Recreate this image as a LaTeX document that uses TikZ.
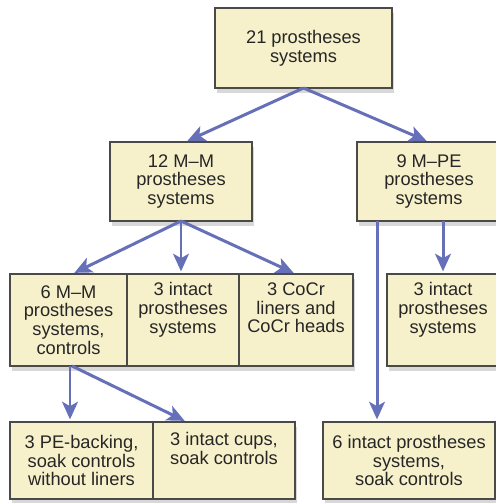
\documentclass[tikz,border=0pt]{standalone}
\usepackage{fontspec}
\setmainfont{Liberation Sans}
\usetikzlibrary{arrows.meta,shadows}

\definecolor{boxfill}{HTML}{F7F1CB}
\definecolor{boxline}{HTML}{4A4A48}
\definecolor{arrowblue}{HTML}{6670B8}

\tikzset{
  sysbox/.style={draw=boxline,line width=0.8pt,fill=boxfill,align=center,
    inner sep=0pt,outer sep=0pt,text=black!85,
    font=\fontsize{10.4}{10.7}\selectfont,
    drop shadow={shadow xshift=1pt,shadow yshift=-3pt,opacity=0.3}},
  arr/.style={->,draw=arrowblue,line width=1.7pt,shorten >=1.5pt}
}

\begin{document}
\begin{tikzpicture}[x=0.02cm,y=-0.02cm,>={Stealth[length=10pt,width=9pt,inset=2.5pt]}]
\useasboundingbox (0,0) rectangle (496,503);
\clip (0,0) rectangle (496,503);
\fill[white] (0,0) rectangle (496,503);

% boxes
\node[sysbox,minimum width=3.54cm,minimum height=1.6cm] (all) at (303.5,48) {21 prostheses\\systems};
\node[sysbox,minimum width=2.84cm,minimum height=1.58cm] (mm) at (181,181.5) {12 M--M\\prostheses\\systems};
\node[sysbox,minimum width=2.88cm,minimum height=1.58cm] (mpe) at (429,181.5) {9 M--PE\\prostheses\\systems};

\node[sysbox,minimum width=2.34cm,minimum height=1.84cm] (mmctrl) at (68.5,320) {6 M--M\\prostheses\\systems,\\controls};
\node[sysbox,minimum width=2.24cm,minimum height=1.84cm] (mmintact) at (183,320) {3 intact\\prostheses\\systems\\\strut};
\node[sysbox,minimum width=2.28cm,minimum height=1.84cm] (cocr) at (296,320) {3 CoCr\\liners and\\CoCr heads\\\strut};
\node[sysbox,minimum width=2.24cm,minimum height=1.84cm] (mpeintact) at (443,320) {3 intact\\prostheses\\systems\\\strut};

\node[sysbox,minimum width=2.86cm,minimum height=1.54cm] (pe) at (81.5,460.5) {3 PE-backing,\\soak controls\\without liners};
\node[sysbox,minimum width=2.84cm,minimum height=1.54cm] (cups) at (224,460.5) {3 intact cups,\\soak controls\\\strut};
\node[sysbox,minimum width=3.44cm,minimum height=1.54cm] (soak) at (409,460.5) {6 intact prostheses\\systems,\\soak controls};

% arrows
\draw[arr] (all.south) -- ([xshift=0.08cm]mm.north);
\draw[arr] (all.south) -- (mpe.north);
\draw[arr] (mm.south) -- ([xshift=0.07cm]mmctrl.north);
\draw[arr] (mm.south) -- (mm.south |- mmintact.north);
\draw[arr] (mm.south) -- (cocr.north);
\draw[arr] ([xshift=-1.04cm]mpe.south) -- ([xshift=-1.04cm]mpe.south |- soak.north);
\draw[arr] (mpeintact.north |- mpe.south) -- (mpeintact.north);
\draw[arr] ([xshift=0.03cm]mmctrl.south) -- ([xshift=0.03cm]mmctrl.south |- pe.north);
\draw[arr] ([xshift=0.07cm]mmctrl.south) -- ([xshift=-0.74cm]cups.north);
\end{tikzpicture}
\end{document}
